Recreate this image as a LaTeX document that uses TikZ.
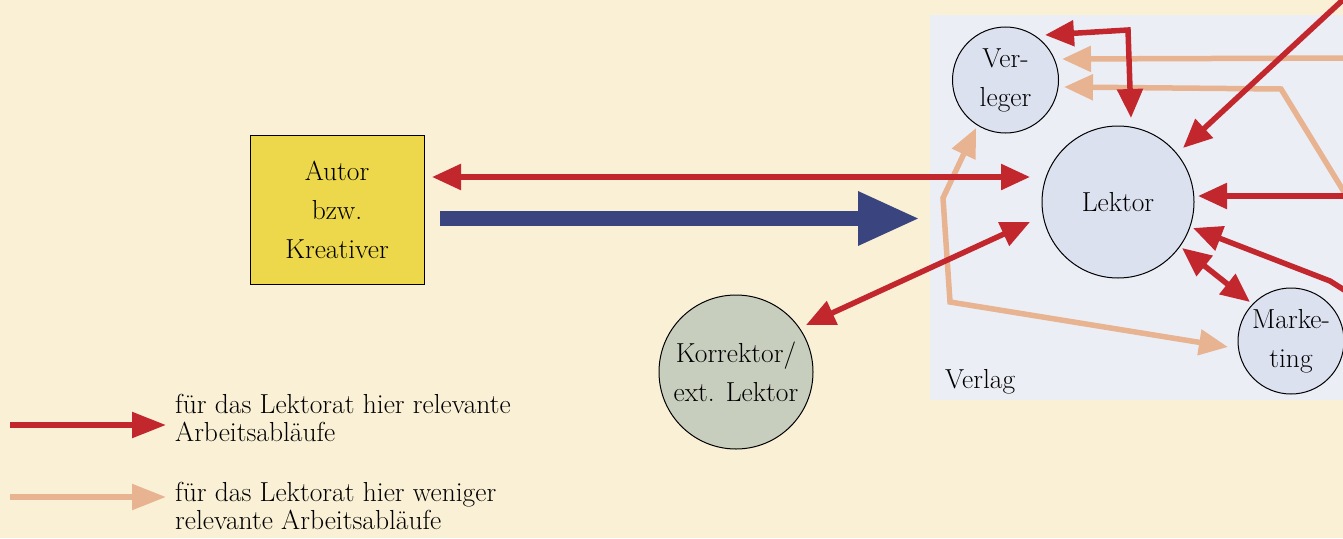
\documentclass[tikz,border=0pt]{standalone}
\usetikzlibrary{arrows.meta}
\definecolor{cream}{HTML}{FAF0D5}
\definecolor{verlagbg}{HTML}{ECEEF6}
\definecolor{circfill}{HTML}{DCE1F0}
\definecolor{korrfill}{HTML}{C8CEBE}
\definecolor{autorfill}{HTML}{EDD84B}
\definecolor{relred}{HTML}{C1272D}
\definecolor{peach}{HTML}{E8B390}
\definecolor{navy}{HTML}{3A4580}
\begin{document}
\begin{tikzpicture}[x=1pt,y=-1pt,
  every node/.style={font=\fontsize{27.5}{39}\selectfont},
  person/.style={circle,draw=black,line width=1pt,fill=circfill,inner sep=0pt,align=center},
  rel/.style={draw=relred,line width=5.5pt,-{Triangle[length=29pt,width=25pt]}},
  relboth/.style={draw=relred,line width=5.5pt,{Triangle[length=29pt,width=25pt]}-{Triangle[length=29pt,width=25pt]}},
  weak/.style={draw=peach,line width=5.5pt,-{Triangle[length=29pt,width=25pt]}},
  weakboth/.style={draw=peach,line width=5.5pt,{Triangle[length=29pt,width=25pt]}-{Triangle[length=29pt,width=25pt]}},
  legendtext/.style={anchor=west,align=left,inner sep=0pt,font=\fontsize{27.5}{28}\selectfont}
]
\clip (0,0) rectangle (1343,538);
\fill[cream] (0,0) rectangle (1343,538);
% Verlag area
\fill[verlagbg] (930,15) rectangle (1343,400);
\node[anchor=base west,inner sep=0pt] (verlag) at (945,388) {Verlag};

% nodes
\node[person,minimum size=106pt] (verleger) at (1005.5,80) {Ver-\\leger};
\node[person,minimum size=152pt] (lektor) at (1118,202) {Lektor};
\node[person,minimum size=106pt] (marketing) at (1291,341) {Marke-\\ting};
\node[person,fill=korrfill,minimum size=154pt] (korrektor) at (736,372) {Korrektor/\\ext. Lektor};
\node[draw=black,line width=1pt,fill=autorfill,minimum width=174pt,minimum height=149pt,align=center,inner sep=0pt] (autor) at (337,209.5) {Autor\\bzw.\\Kreativer};

% free ends / bend points
\coordinate (aR) at (432,177);
\coordinate (aL) at (1030,177);
\coordinate (bS) at (440,218.5);
\coordinate (bE) at (920,218.5);
\coordinate (kA) at (806,325);
\coordinate (kB) at (1030,222);
\coordinate (vA) at (1045,35);
\coordinate (vB) at (1128,30);
\coordinate (vC) at (1131,118);
\coordinate (p1a) at (1360,58);
\coordinate (p1b) at (1062,59);
\coordinate (p2a) at (1360,218);
\coordinate (p2m) at (1281,89);
\coordinate (p2b) at (1064,87);
\coordinate (p3a) at (1228,347);
\coordinate (p3m) at (950,302);
\coordinate (p3n) at (943,198);
\coordinate (p3b) at (976,128);
\coordinate (tr) at (1360,-16);
\coordinate (trb) at (1183,148);
\coordinate (rh) at (1360,196);
\coordinate (rhb) at (1198,196);
\coordinate (rb) at (1360,300);
\coordinate (rbm) at (1330,281);
\coordinate (rbb) at (1193,228);
\coordinate (mA) at (1182,248);
\coordinate (mB) at (1250,302);

% weak connections
\draw[weak] (p1a) -- (p1b);
\draw[weak] (p2a) -- (p2m) -- (p2b);
\draw[weakboth] (p3a) -- (p3m) -- (p3n) -- (p3b);

% relevant connections
\draw[relboth] (aR) -- (aL);
\draw[draw=navy,line width=15pt,-{Triangle[length=62pt,width=50pt]}] (bS) -- (bE);
\draw[relboth] (kA) -- (kB);
\draw[relboth] (vA) -- (vB) -- (vC);
\draw[rel] (tr) -- (trb);
\draw[rel] (rh) -- (rhb);
\draw[rel] (rb) -- (rbm) -- (rbb);
\draw[relboth] (mA) -- (mB);

% legend
\coordinate (l1a) at (10,425);
\coordinate (l1b) at (166,425);
\coordinate (l2a) at (10,497);
\coordinate (l2b) at (166,497);
\draw[draw=relred,line width=5.5pt,-{Triangle[length=34pt,width=25pt]}] (l1a) -- (l1b);
\draw[draw=peach,line width=5.5pt,-{Triangle[length=34pt,width=25pt]}] (l2a) -- (l2b);
\node[legendtext] (leg1) at (175,418) {für das Lektorat hier relevante\\Arbeitsabläufe};
\node[legendtext] (leg2) at (175,506) {für das Lektorat hier weniger\\relevante Arbeitsabläufe};
\end{tikzpicture}
\end{document}
